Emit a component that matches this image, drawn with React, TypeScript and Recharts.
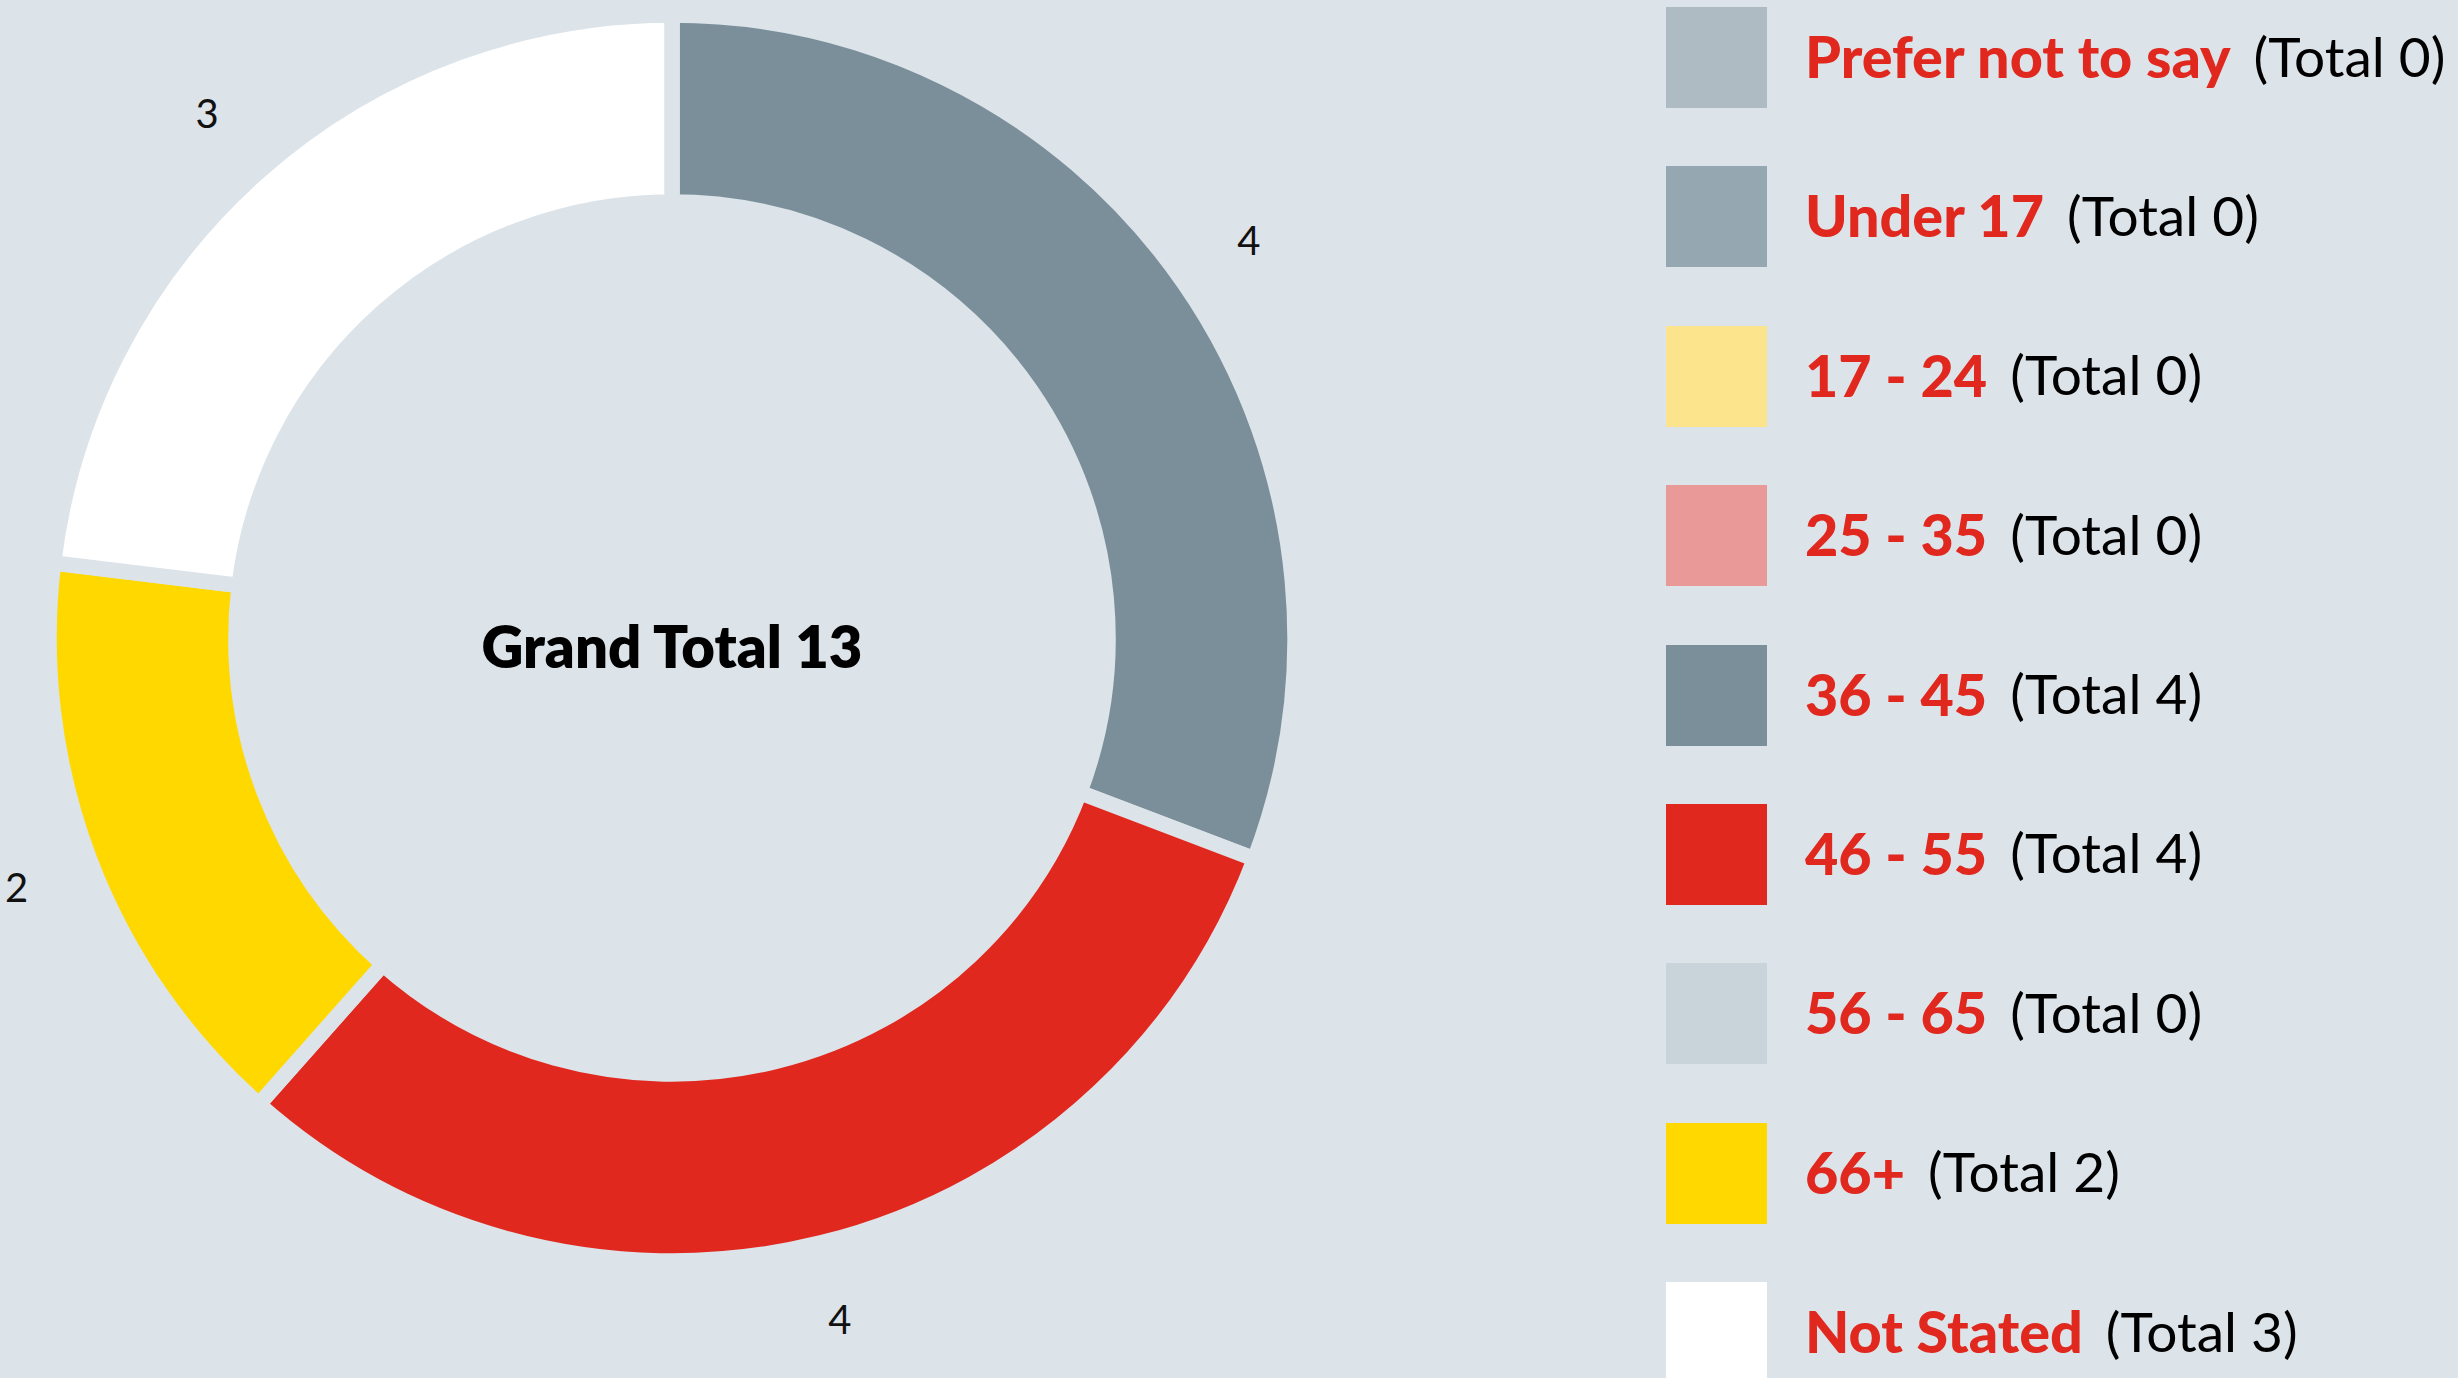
import { PieChart, Pie, Cell, Legend } from "recharts";

const categories = [
  "Prefer not to say",
  "Under 17",
  "17 - 24",
  "25 - 35",
  "36 - 45",
  "46 - 55",
  "56 - 65",
  "66+",
  "Not Stated",
];
const totals = [0, 0, 0, 0, 4, 4, 0, 2, 3];
const colors = [
  "#aebbc3",
  "#95a7b1",
  "#fce48d",
  "#ea9999",
  "#7b8f9a",
  "#e0281e",
  "#c8d3da",
  "#ffd800",
  "#ffffff",
];

const BG = "#dce3e9";
const RED = "#e0281e";
const FONT = "Lato, 'Open Sans', sans-serif";
const RADIAN = Math.PI / 180;
const PIE_CX = 672;
const PIE_CY = 638;

const data = categories.map((name, i) => ({ name, value: totals[i], color: colors[i] }));
const grandTotal = totals.reduce((a, b) => a + b, 0);

function renderValueLabel(props: any) {
  const { cx, cy, midAngle, outerRadius, value } = props;
  if (!value) return null;
  const r = outerRadius + 78;
  const x = cx + r * Math.cos(-midAngle * RADIAN);
  const y = cy + r * Math.sin(-midAngle * RADIAN);
  return (
    <text x={x} y={y} textAnchor="middle" dominantBaseline="central" fontSize={40} fill="#111" fontFamily={FONT}>
      {value}
    </text>
  );
}

function AgeLegend() {
  return (
    <div style={{ fontFamily: FONT }}>
      {data.map((d) => (
        <div key={d.name} style={{ display: "flex", alignItems: "center", height: 101, marginBottom: 58.4 }}>
          <div style={{ width: 101, height: 101, background: d.color, flex: "none" }} />
          <span style={{ marginLeft: 38, marginTop: -4, color: RED, fontWeight: 900, fontSize: 57.5, whiteSpace: "nowrap" }}>
            {d.name}
          </span>
          <span style={{ marginLeft: 23, marginTop: -4, color: "#000", fontSize: 55, whiteSpace: "nowrap" }}>
            (Total {d.value})
          </span>
        </div>
      ))}
    </div>
  );
}

export default function App() {
  return (
    <div style={{ position: "absolute", left: 0, top: 0, width: 2458, height: 1378, background: BG, overflow: "hidden" }}>
      <PieChart width={2458} height={1378} margin={{ top: 0, right: 0, bottom: 0, left: 0 }}>
        <Pie
          data={data}
          dataKey="value"
          nameKey="name"
          cx={PIE_CX}
          cy={PIE_CY}
          innerRadius={436}
          outerRadius={623}
          startAngle={90}
          endAngle={-270}
          stroke={BG}
          strokeWidth={15.5}
          label={renderValueLabel}
          labelLine={false}
          isAnimationActive={false}
        >
          {data.map((d) => (
            <Cell key={d.name} fill={d.color} />
          ))}
        </Pie>
        <text
          x={PIE_CX}
          y={PIE_CY + 7}
          textAnchor="middle"
          dominantBaseline="central"
          fontSize={58}
          fontWeight={800}
          fill="#000"
          fontFamily={FONT}
        >
          {`Grand Total ${grandTotal}`}
        </text>
        <Legend
          layout="vertical"
          align="right"
          verticalAlign="top"
          wrapperStyle={{ left: 1666, top: 7, width: 780 }}
          content={() => <AgeLegend />}
        />
      </PieChart>
    </div>
  );
}
